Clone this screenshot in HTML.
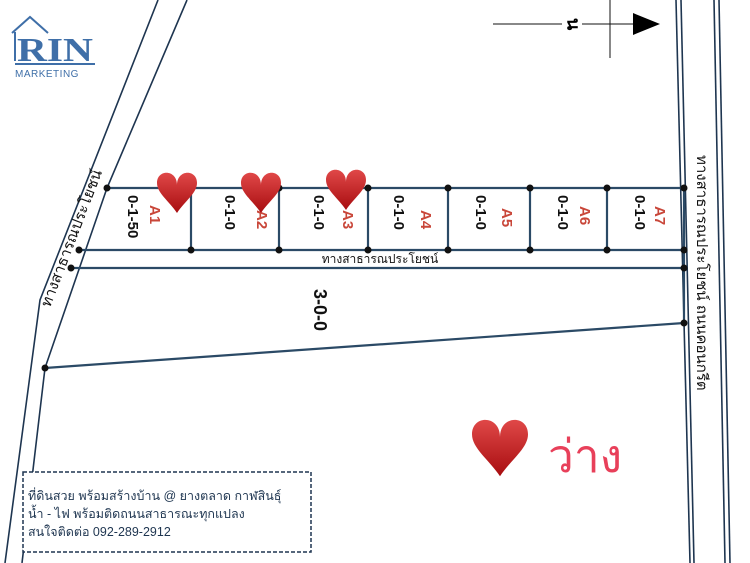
<!DOCTYPE html>
<html><head><meta charset="utf-8"><style>
html,body{margin:0;padding:0;background:#fff;}
svg{display:block;font-family:"Liberation Sans","Noto Sans CJK SC",sans-serif;}
</style></head><body>
<svg width="750" height="563" viewBox="0 0 750 563" xmlns="http://www.w3.org/2000/svg">
<rect width="750" height="563" fill="#fff"/>
<!-- logo -->
<g stroke="#3f6fa8" fill="none" stroke-width="2">
<polyline points="12,33 30,17 48,33"/>
<line x1="15" y1="32" x2="15" y2="61"/>
</g>
<text x="17" y="61" font-family="Liberation Serif,serif" font-size="34" font-weight="bold" fill="#3f6fa8" textLength="76" lengthAdjust="spacingAndGlyphs">RIN</text>
<line x1="15" y1="64" x2="95" y2="64" stroke="#3f6fa8" stroke-width="2"/>
<text x="15" y="77" font-size="10" fill="#3f6fa8" letter-spacing="0.5">MARKETING</text>
<!-- north arrow -->
<line x1="493" y1="24" x2="640" y2="24" stroke="#111" stroke-width="1"/>
<line x1="610" y1="0" x2="610" y2="58" stroke="#111" stroke-width="1"/>
<polygon points="633,13 660,24 633,35" fill="#000"/>
<rect x="562" y="14" width="20" height="20" fill="#fff"/>
<text x="572" y="24" font-size="18" font-weight="bold" transform="rotate(90 572 24)" text-anchor="middle" dominant-baseline="middle">น</text>
<!-- roads -->
<g stroke="#1e3550" stroke-width="1.6" fill="none">
<polyline points="158,0 40,300 5,563"/>
<polyline points="187,0 107,188 45,368 22,563"/>
<line x1="676" y1="0" x2="690" y2="563"/>
<line x1="681" y1="0" x2="694" y2="563"/>
<line x1="714" y1="0" x2="725" y2="563"/>
<line x1="719" y1="0" x2="730" y2="563"/>
</g>
<g stroke="#2b4a66" stroke-width="2.2" fill="none">
<line x1="107" y1="188" x2="684" y2="188"/>
<line x1="79" y1="250" x2="684" y2="250"/>
<line x1="71" y1="268" x2="684" y2="268"/>
<line x1="45" y1="368" x2="684" y2="323"/>
<line x1="684" y1="188" x2="684" y2="323"/>
<line x1="191" y1="188" x2="191" y2="250"/>
<line x1="279" y1="188" x2="279" y2="250"/>
<line x1="368" y1="188" x2="368" y2="250"/>
<line x1="448" y1="188" x2="448" y2="250"/>
<line x1="530" y1="188" x2="530" y2="250"/>
<line x1="607" y1="188" x2="607" y2="250"/>
</g>
<g fill="#111">
<circle cx="107" cy="188" r="3.5"/><circle cx="279" cy="188" r="3.5"/><circle cx="368" cy="188" r="3.5"/><circle cx="448" cy="188" r="3.5"/><circle cx="530" cy="188" r="3.5"/><circle cx="607" cy="188" r="3.5"/><circle cx="684" cy="188" r="3.5"/>
<circle cx="79" cy="250" r="3.5"/><circle cx="191" cy="250" r="3.5"/><circle cx="279" cy="250" r="3.5"/><circle cx="368" cy="250" r="3.5"/><circle cx="448" cy="250" r="3.5"/><circle cx="530" cy="250" r="3.5"/><circle cx="607" cy="250" r="3.5"/><circle cx="684" cy="250" r="3.5"/>
<circle cx="71" cy="268" r="3.5"/><circle cx="684" cy="268" r="3.5"/>
<circle cx="45" cy="368" r="3.5"/><circle cx="684" cy="323" r="3.5"/>
</g>
<text x="380" y="263" font-size="12" text-anchor="middle" fill="#111">ทางสาธารณประโยชน์</text>
<g font-size="15" font-weight="bold">
<text transform="translate(128,195) rotate(90)" fill="#111">0-1-50</text>
<text transform="translate(150,205) rotate(90)" fill="#c9473a">A1</text>
<text transform="translate(225,195) rotate(90)" fill="#111">0-1-0</text>
<text transform="translate(257,210) rotate(90)" fill="#c9473a">A2</text>
<text transform="translate(314,195) rotate(90)" fill="#111">0-1-0</text>
<text transform="translate(343,210) rotate(90)" fill="#c9473a">A3</text>
<text transform="translate(394,195) rotate(90)" fill="#111">0-1-0</text>
<text transform="translate(421,210) rotate(90)" fill="#c9473a">A4</text>
<text transform="translate(476,195) rotate(90)" fill="#111">0-1-0</text>
<text transform="translate(502,208) rotate(90)" fill="#c9473a">A5</text>
<text transform="translate(558,195) rotate(90)" fill="#111">0-1-0</text>
<text transform="translate(580,206) rotate(90)" fill="#c9473a">A6</text>
<text transform="translate(635,195) rotate(90)" fill="#111">0-1-0</text>
<text transform="translate(655,206) rotate(90)" fill="#c9473a">A7</text>
<text transform="translate(314,289) rotate(90)" font-size="18" fill="#111">3-0-0</text>
</g>
<defs>
<linearGradient id="hg" x1="0" y1="0" x2="0" y2="1"><stop offset="0" stop-color="#e04848"/><stop offset="1" stop-color="#a80d10"/></linearGradient>
<path id="h" d="M0,10 C0,-6 -20,-6 -20,8 C-20,18 -8,26 0,38 C8,26 20,18 20,8 C20,-6 0,-6 0,10Z" fill="url(#hg)"/>
</defs>
<use href="#h" transform="translate(177,175)"/>
<use href="#h" transform="translate(261,175)"/>
<use href="#h" transform="translate(346,172)"/>
<use href="#h" transform="translate(500,423) scale(1.4)"/>
<text x="548" y="472" font-size="46" fill="#e8405a">ว่าง</text>
<text transform="translate(50,308) rotate(-69)" font-size="15" fill="#111">ทางสาธารณประโยชน์</text>
<text transform="translate(697,155) rotate(90)" font-size="15" fill="#111">ทางสาธารณประโยชน์  ถนนคอนกรีต</text>
<rect x="23" y="472" width="288" height="80" fill="#fff" stroke="#1e3550" stroke-width="1.5" stroke-dasharray="4,2"/>
<g font-size="12.5" fill="#1e3550">
<text x="28" y="500">ที่ดินสวย พร้อมสร้างบ้าน  @ ยางตลาด กาฬสินธุ์</text>
<text x="28" y="518">น้ำ - ไฟ พร้อมติดถนนสาธารณะทุกแปลง</text>
<text x="28" y="536">สนใจติดต่อ 092-289-2912</text>
</g>
</svg>
</body></html>
